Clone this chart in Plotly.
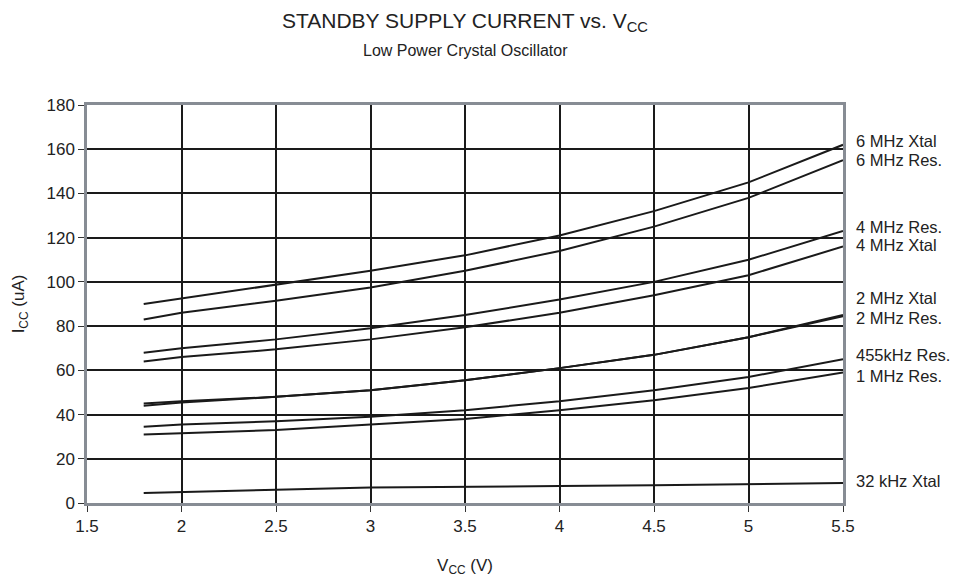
import plotly.graph_objects as go

# supply voltage (V)
vcc = [1.8, 2.0, 2.5, 3.0, 3.5, 4.0, 4.5, 5.0, 5.5]

# standby current (uA) per oscillator
xtal_6mhz = [90, 92.5, 98.5, 105, 112, 121, 132, 145, 162]
res_6mhz = [83, 86, 91.5, 97.5, 105, 114, 125, 138, 155]
res_4mhz = [68, 70, 74, 79, 85, 92, 100, 110, 123]
xtal_4mhz = [64, 66, 69.5, 74, 79.5, 86, 94, 103, 116]
xtal_2mhz = [45, 46, 48, 51, 55.5, 61, 67, 75, 85]
res_2mhz = [44, 45.5, 48, 51, 55.5, 61, 67, 75, 84.5]
res_455khz = [34.5, 35.5, 37, 39, 42, 46, 51, 57, 65]
res_1mhz = [31, 31.5, 33, 35.5, 38, 42, 46.5, 52, 59]
xtal_32khz = [4.5, 5, 6, 7, 7.5, 7.7, 8, 8.5, 9]

names = ["6 MHz Xtal", "6 MHz Res.", "4 MHz Res.", "4 MHz Xtal", "2 MHz Xtal",
         "2 MHz Res.", "455kHz Res.", "1 MHz Res.", "32 kHz Xtal"]
series = [xtal_6mhz, res_6mhz, res_4mhz, xtal_4mhz, xtal_2mhz,
          res_2mhz, res_455khz, res_1mhz, xtal_32khz]
# where the right-hand labels sit
label_y = [163.7, 155.3, 124.7, 116.6, 92.7, 83.7, 67, 57.6, 10]

txt = "#222"
fig = go.Figure()
for name, vals in zip(names, series):
    fig.add_trace(go.Scatter(x=vcc, y=vals, mode="lines", name=name,
                             line=dict(color="#1a1a1a", width=2), showlegend=False))

for name, ly in zip(names, label_y):
    fig.add_annotation(x=5.5, y=ly, text=name, showarrow=False, xanchor="left",
                       yanchor="middle", xshift=11, font=dict(size=16.5, color=txt))

# page body has an 8px margin, so the figure is 8px smaller and margins shifted
fig.add_annotation(x=0.5, y=1.0, xref="paper", yref="paper", yshift=83, yanchor="middle",
                   text="STANDBY SUPPLY CURRENT vs. V<sub>CC</sub>", showarrow=False,
                   font=dict(size=21, color=txt))
fig.add_annotation(x=0.5, y=1.0, xref="paper", yref="paper", yshift=55, yanchor="middle",
                   text="Low Power Crystal Oscillator", showarrow=False,
                   font=dict(size=16, color=txt))

fig.update_xaxes(range=[1.5, 5.5], dtick=0.5, tick0=1.5, showgrid=True, gridcolor="#1a1a1a",
                 gridwidth=2, showline=True, linecolor="#878c94", linewidth=2.5, mirror=True,
                 ticks="outside", ticklen=6, tickcolor="#333", zeroline=False, automargin=False,
                 tickfont=dict(size=17, color=txt),
                 title=dict(text="V<sub>CC</sub> (V)", font=dict(size=17, color=txt), standoff=24))
fig.update_yaxes(range=[0, 180], dtick=20, showgrid=True, gridcolor="#1a1a1a", gridwidth=2,
                 showline=True, linecolor="#878c94", linewidth=2.5, mirror=True,
                 ticks="outside", ticklen=6, tickcolor="#333", zeroline=False, automargin=False,
                 tickfont=dict(size=17, color=txt),
                 title=dict(text="I<sub>CC</sub> (uA)", font=dict(size=17, color=txt), standoff=18))

fig.update_layout(width=969, height=572, plot_bgcolor="white", paper_bgcolor="white",
                  font=dict(family="Liberation Sans, Arial, sans-serif"),
                  margin=dict(l=79, r=134, t=97, b=77))

fig.write_html("out.html")
